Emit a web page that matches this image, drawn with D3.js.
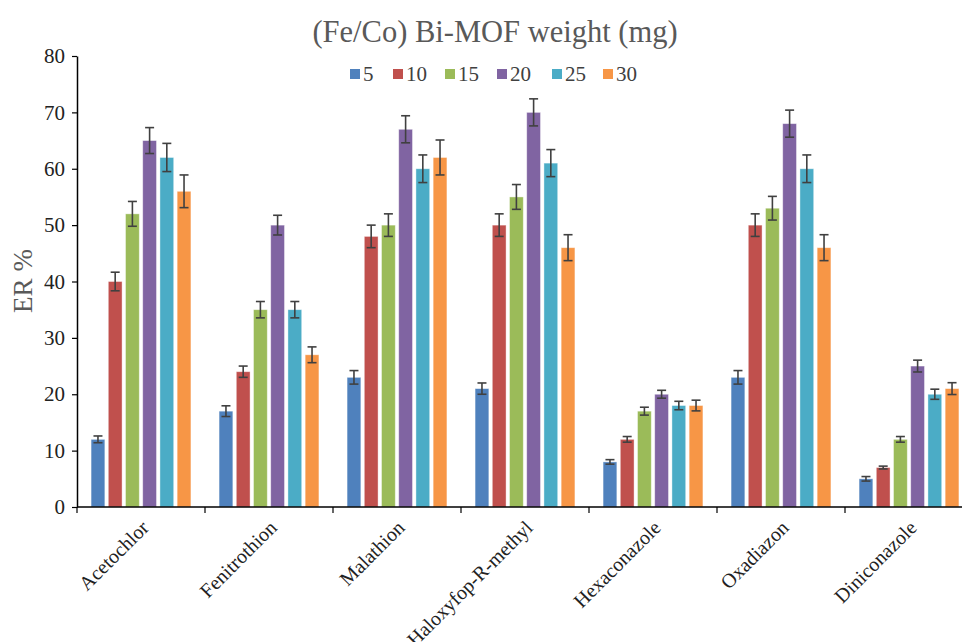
<!DOCTYPE html>
<html>
<head>
<meta charset="utf-8">
<script src="https://cdn.jsdelivr.net/npm/d3@7"></script>
<style>
  html, body { margin: 0; padding: 0; background: #fff; }
  svg text { font-family: "Liberation Serif", "Times New Roman", "DejaVu Serif", serif; }
</style>
</head>
<body>
<svg id="chart" width="962" height="642"></svg>
<script>
// Pesticides tested
const categories = ["Acetochlor", "Fenitrothion", "Malathion", "Haloxyfop-R-methyl", "Hexaconazole", "Oxadiazon", "Diniconazole"];
// Sorbent weights (mg) used as series
const seriesNames = ["5", "10", "15", "20", "25", "30"];
const seriesColors = ["#4F81BD", "#C0504D", "#9BBB59", "#8064A2", "#4BACC6", "#F79646"];

// Extraction recovery (%) per weight, one array per series, in category order
const er5  = [12, 17, 23, 21, 8, 23, 5];
const er10 = [40, 24, 48, 50, 12, 50, 7];
const er15 = [52, 35, 50, 55, 17, 53, 12];
const er20 = [65, 50, 67, 70, 20, 68, 25];
const er25 = [62, 35, 60, 61, 18, 60, 20];
const er30 = [56, 27, 62, 46, 18, 46, 21];

// Standard deviations (error bars)
const sd5  = [0.6, 0.95, 1.2, 1.0, 0.4, 1.2, 0.4];
const sd10 = [1.65, 1.0, 2.0, 2.0, 0.5, 2.0, 0.25];
const sd15 = [2.2, 1.45, 2.0, 2.2, 0.7, 2.1, 0.5];
const sd20 = [2.3, 1.75, 2.4, 2.4, 0.7, 2.4, 1.05];
const sd25 = [2.5, 1.45, 2.45, 2.4, 0.75, 2.45, 0.9];
const sd30 = [2.9, 1.4, 3.1, 2.3, 0.95, 2.3, 1.05];

const yTicks = [0, 10, 20, 30, 40, 50, 60, 70, 80];

const values = [er5, er10, er15, er20, er25, er30];
const errors = [sd5, sd10, sd15, sd20, sd25, sd30];

const FONT = '"Liberation Serif", "Times New Roman", "DejaVu Serif", serif';
const svg = d3.select("#chart");

const x0 = d3.scaleBand().domain(categories).range([77, 973]).paddingInner(0.22).paddingOuter(0.11);
const x1 = d3.scaleBand().domain(seriesNames).range([0, x0.bandwidth()]).paddingInner(0.2).paddingOuter(0);
const y = d3.scaleLinear().domain([0, 80]).range([507, 56]);

// Title
svg.append("text")
  .attr("x", 495).attr("y", 42)
  .attr("text-anchor", "middle")
  .attr("font-family", FONT)
  .attr("font-size", 30.5)
  .attr("fill", "#595959")
  .text("(Fe/Co) Bi-MOF weight (mg)");

// Legend
const legend = svg.append("g").attr("transform", "translate(350,74)");
const legendX = [0, 43, 95, 147, 202, 253];
seriesNames.forEach((s, i) => {
  const g = legend.append("g").attr("transform", `translate(${legendX[i]},0)`);
  g.append("rect").attr("x", 0).attr("y", -5).attr("width", 10).attr("height", 10).attr("fill", seriesColors[i]);
  g.append("text").attr("x", 13).attr("y", 0).attr("dy", "0.35em")
    .attr("font-family", FONT)
    .attr("font-size", 21).attr("fill", "#404040").text(s);
});

// Y axis label
svg.append("text")
  .attr("transform", "translate(32,281) rotate(-90)")
  .attr("text-anchor", "middle")
  .attr("font-family", FONT)
  .attr("font-size", 27)
  .attr("fill", "#595959")
  .text("ER %");

// Bars
const groups = svg.append("g").selectAll("g")
  .data(categories)
  .join("g")
  .attr("transform", d => `translate(${x0(d)},0)`);

groups.selectAll("rect")
  .data((c, ci) => seriesNames.map((s, si) => ({ s, si, v: values[si][ci], e: errors[si][ci] })))
  .join("rect")
  .attr("x", d => x1(d.s))
  .attr("y", d => y(d.v))
  .attr("width", x1.bandwidth())
  .attr("height", d => y(0) - y(d.v))
  .attr("fill", d => seriesColors[d.si])
  .attr("stroke", "#ffffff")
  .attr("stroke-opacity", 0.5)
  .attr("stroke-width", 0.8);

// Error bars
const eb = groups.selectAll("g.err")
  .data((c, ci) => seriesNames.map((s, si) => ({ s, si, v: values[si][ci], e: errors[si][ci] })))
  .join("g")
  .attr("class", "err")
  .attr("stroke", "#404040")
  .attr("stroke-width", 1.6);
const capHalf = 4.5;
eb.append("line")
  .attr("x1", d => x1(d.s) + x1.bandwidth() / 2)
  .attr("x2", d => x1(d.s) + x1.bandwidth() / 2)
  .attr("y1", d => y(d.v + d.e))
  .attr("y2", d => y(d.v - d.e));
eb.append("line")
  .attr("x1", d => x1(d.s) + x1.bandwidth() / 2 - capHalf)
  .attr("x2", d => x1(d.s) + x1.bandwidth() / 2 + capHalf)
  .attr("y1", d => y(d.v + d.e)).attr("y2", d => y(d.v + d.e));
eb.append("line")
  .attr("x1", d => x1(d.s) + x1.bandwidth() / 2 - capHalf)
  .attr("x2", d => x1(d.s) + x1.bandwidth() / 2 + capHalf)
  .attr("y1", d => y(d.v - d.e)).attr("y2", d => y(d.v - d.e));

// Y axis
const yAxis = svg.append("g")
  .attr("transform", "translate(77,0)")
  .call(d3.axisLeft(y).tickValues(yTicks).tickSize(5).tickSizeOuter(0).tickPadding(7));
yAxis.attr("font-family", FONT);
yAxis.select(".domain").attr("stroke", "#000").attr("stroke-width", 1.5);
yAxis.selectAll(".tick line").attr("stroke", "#000").attr("stroke-width", 1.2);
yAxis.selectAll(".tick text")
  .attr("font-family", FONT)
  .attr("font-size", 21).attr("fill", "#222");

// X axis: baseline with ticks at the category boundaries
const xAxis = svg.append("g");
const [r0, r1] = x0.range();
xAxis.append("line")
  .attr("x1", r0).attr("x2", r1)
  .attr("y1", y(0)).attr("y2", y(0))
  .attr("stroke", "#000").attr("stroke-width", 1.5);
const boundaries = categories.map(c => x0(c) - x0.step() * x0.paddingOuter());
boundaries.push(r1);
xAxis.selectAll("line.tick")
  .data(boundaries)
  .join("line")
  .attr("class", "tick")
  .attr("x1", d => d).attr("x2", d => d)
  .attr("y1", y(0)).attr("y2", y(0) + 6)
  .attr("stroke", "#000").attr("stroke-width", 1.2);
xAxis.selectAll("text")
  .data(categories)
  .join("text")
  .attr("transform", d => `translate(${x0(d) + x0.bandwidth() / 2 + 4},${y(0) + 17}) rotate(-45)`)
  .attr("text-anchor", "end")
  .attr("dy", "0.35em")
  .attr("font-family", FONT)
  .attr("font-size", 20)
  .attr("fill", "#222")
  .text(d => d);
</script>
</body>
</html>
